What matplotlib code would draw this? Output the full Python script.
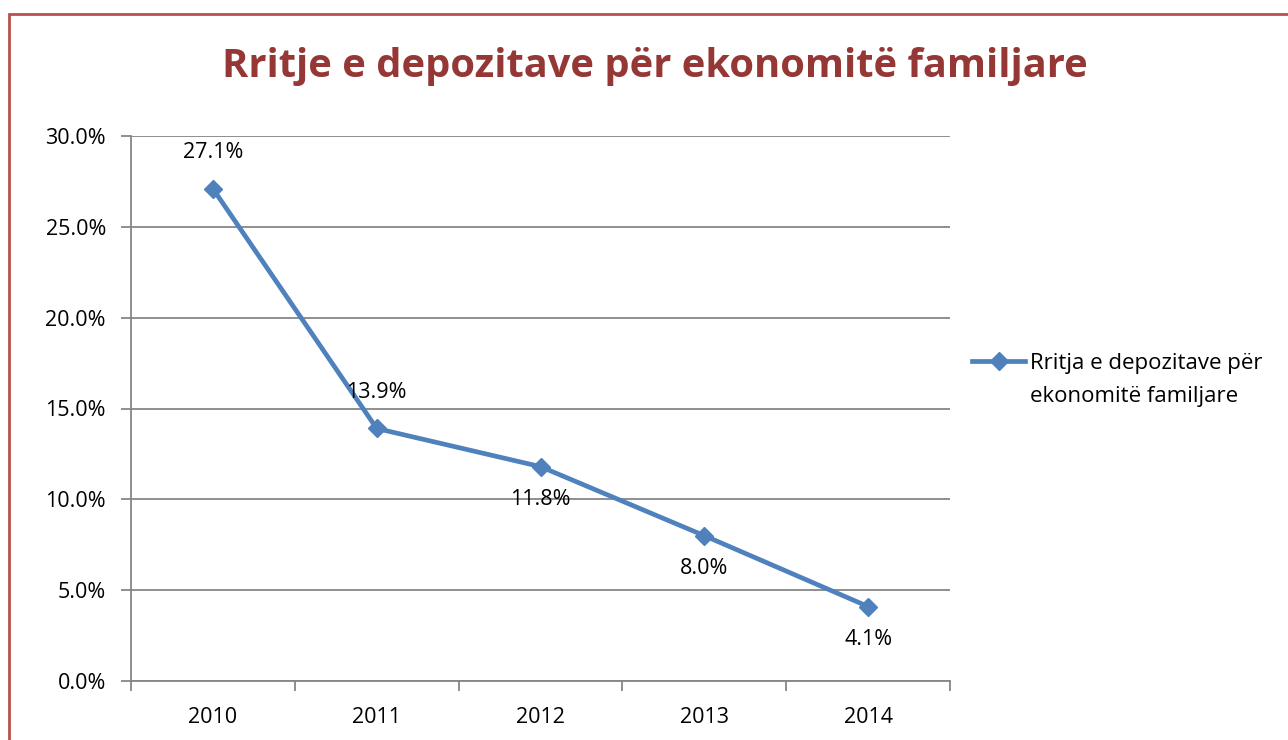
import matplotlib
matplotlib.use('Agg')
import matplotlib.pyplot as plt
from matplotlib.patches import Rectangle
from matplotlib.ticker import FuncFormatter

plt.rcParams['font.family'] = ['Open Sans', 'DejaVu Sans']

years = ['2010', '2011', '2012', '2013', '2014']
growth = [27.1, 13.9, 11.8, 8.0, 4.1]
label_pos = ['above', 'above', 'below', 'below', 'below']
series_name = ['Rritja e depozitave për', 'ekonomitë familjare']
title = 'Rritje e depozitave për ekonomitë familjare'

fig = plt.figure(figsize=(12.88, 7.40), dpi=100)
ax = fig.add_axes([131/1288, 1 - 681/740, (950 - 131)/1288, (681 - 136)/740])

# outer chart border
fig.patches.append(Rectangle((9/1288, -0.1), 1.2, 1 - 14/740 + 0.1,
                             transform=fig.transFigure, fill=False,
                             edgecolor='#B9504D', linewidth=2))

xs = list(range(len(years)))
ax.plot(xs, growth, color='#4F81BD', linewidth=3.4, marker='D',
        markersize=9.5, label=series_name[0])

for x, v, pos in zip(xs, growth, label_pos):
    off = 26 if pos == 'above' else -24
    ax.annotate('%.1f%%' % v, (x, v), xytext=(0, off), textcoords='offset points',
                ha='center', va='center', fontsize=15.5, color='black')

ax.set_xlim(-0.5, len(years) - 0.5)
ax.set_ylim(0, 30)
ax.set_yticks(range(0, 31, 5))
ax.yaxis.set_major_formatter(FuncFormatter(lambda v, p: '%.1f%%' % v))
ax.set_xticks([i - 0.5 for i in range(len(years) + 1)])
ax.set_xticklabels([])
ax.set_xticks(xs, minor=True)
ax.set_xticklabels(years, minor=True)
ax.tick_params(axis='x', which='minor', length=0, pad=19, labelsize=15.5)
ax.tick_params(axis='x', which='major', length=7, width=1.3, color='#868686', direction='out')
ax.tick_params(axis='y', length=7, width=1.3, color='#868686', pad=11, labelsize=15.5)

ax.grid(axis='y', color='#868686', linewidth=1.3)
ax.set_axisbelow(True)
for s in ['top', 'right']:
    ax.spines[s].set_visible(False)
for s in ['left', 'bottom']:
    ax.spines[s].set_color('#868686')
    ax.spines[s].set_linewidth(1.3)

fig.text(655/1288, 1 - 67/740, title, ha='center', va='center',
         fontsize=28.7, fontweight='bold', color='#953735')

# legend: first line with handle, second line of the label underneath
fig.legend(loc='center left', bbox_to_anchor=(952/1288, 1 - 363/740),
           frameon=False, fontsize=16, handlelength=2.4, handletextpad=0.2)
fig.text(1030/1288, 1 - 397/740, series_name[1], ha='left', va='center',
         fontsize=16)

fig.savefig('out.png', dpi=100, facecolor='white')
